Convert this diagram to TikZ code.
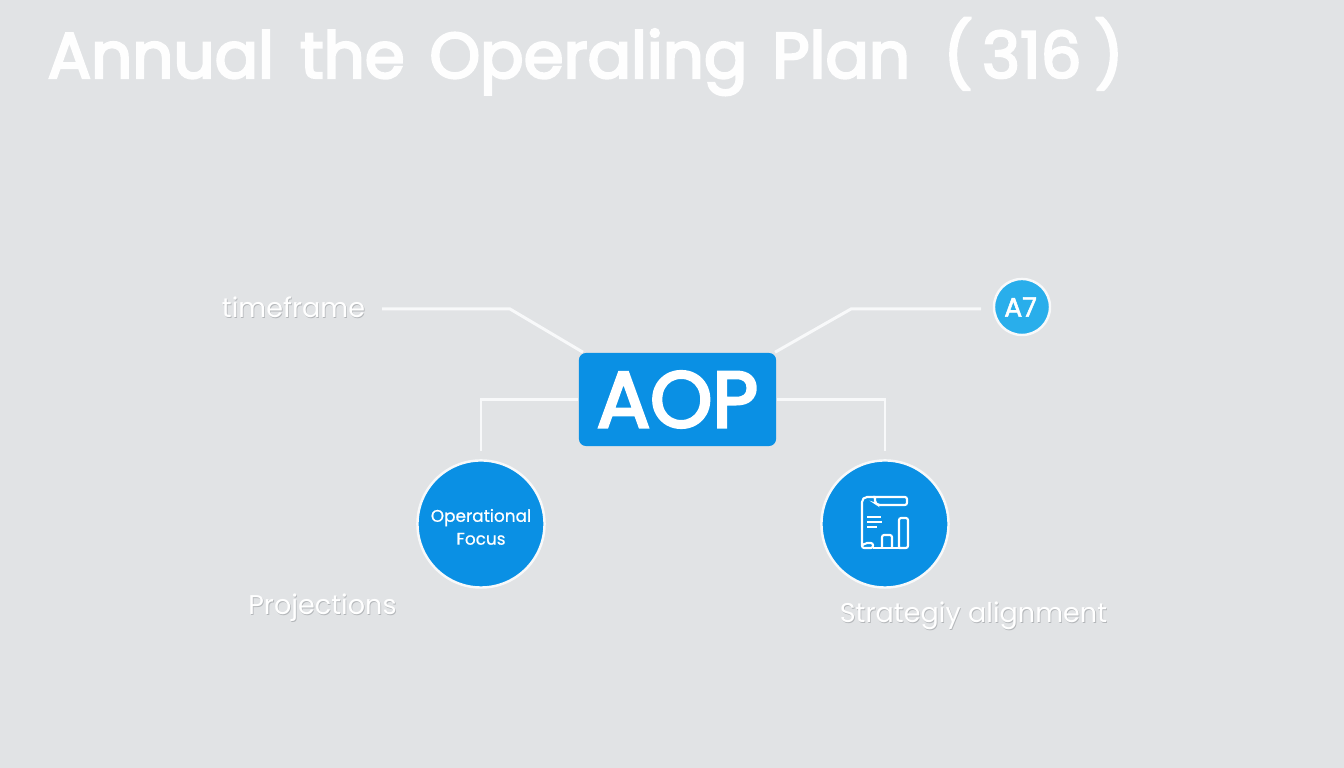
\documentclass[tikz,border=0pt]{standalone}
\usepackage{fontspec}
\setmainfont{Poppins}
\newfontfamily\heavyfont[FakeBold=3.6]{Poppins}
\newfontfamily\midfont[FakeBold=2]{Poppins}
\newfontfamily\lightfont[FakeBold=0.8]{Poppins}
\definecolor{pagegray}{HTML}{E1E3E5}
\definecolor{aopblue}{HTML}{0A90E4}
\definecolor{badgeblue}{HTML}{29AEEB}
\definecolor{linkwhite}{HTML}{F8F9FA}
\definecolor{shadegray}{HTML}{B4B7BA}
\newcommand{\shaded}[1]{\leavevmode\rlap{\kern0.22pt\raisebox{-0.22pt}{\textcolor{shadegray}{#1}}}#1}
\begin{document}
\begin{tikzpicture}[x=0.01cm, y=-0.01cm]
    % Define styles
    \tikzset{
        link/.style={
            linkwhite,
            line width=0.85pt
        },
        hub/.style={
            fill=aopblue,
            rounded corners=2pt,
            minimum width=1.97cm,
            minimum height=0.93cm,
            inner sep=0pt,
            text=white,
            font=\fontsize{22.5}{24}\heavyfont
        },
        disc/.style={
            circle,
            fill=aopblue,
            draw=linkwhite,
            line width=0.7pt,
            minimum size=1.27cm,
            inner sep=0pt,
            text=white,
            align=center,
            font=\fontsize{4.8}{6.5}\lightfont
        },
        badge/.style={
            disc,
            fill=badgeblue,
            minimum size=0.56cm,
            font=\fontsize{7.6}{8}\midfont
        },
        tag/.style={
            text=white,
            inner sep=0pt,
            font=\fontsize{7.7}{9}\selectfont
        },
        glyph/.style={
            white,
            line width=0.6pt,
            rounded corners=0.6pt
        }
    }

    % Background
    \fill[pagegray] (0,0) rectangle (1344,768);
    \useasboundingbox (0,0) rectangle (1344,768);

    % Title
    \node[tag, anchor=base west, font=\fontsize{18.3}{22}\heavyfont, text=white!97!pagegray] (title) at (47,78) {Annual\hspace{0.14em} the\hspace{0.12em} Operaling\hspace{0.12em} Plan\hspace{0.25em} (\hspace{0.15em}316\hspace{0.2em})};

    % Main nodes
    \node[hub] (aop) at (677.5,399.5) {AOP};
    \node[disc] (focus) at (481,524) {\rule{0pt}{5.3pt}Operational\\Focus};
    \node[disc] (chart) at (885,524) {};
    \node[badge] (a7) at (1022,307) {A7\kern0.8pt};

    % Labels
    \node[tag] (timeframe) at (293.5,308) {\shaded{timeframe}};
    \node[tag] (projections) at (322.5,608) {\shaded{Projections}};
    \node[tag] (alignment) at (973.5,616) {\shaded{Strategiy alignment}};

    % Connector ends
    \coordinate (timeEnd) at (382,309);
    \coordinate (badgeEnd) at (981,309);
    \coordinate (focusEnd) at (481,451);
    \coordinate (chartEnd) at (885,451);

    % Connectors
    \draw[link] (timeEnd) -- (510,309) -- (aop.north west -| 583,353);
    \draw[link] (badgeEnd) -- (851,309) -- (aop.north east -| 775,353);
    \draw[link] (aop.west |- 0,400) -| (focusEnd);
    \draw[link] (aop.east |- 0,400) -| (chartEnd);

    % Report icon
    \begin{scope}[glyph]
        \draw (875,497) -- (865,497) -- (862,500) -- (862,548) -- (873,548) -- (873,543) -- (865,543) -- (862,546);
        \draw (873,497) -- (907,497) -- (907,505) -- (878,505) -- (875,503) -- (875,497);
        \draw (873,548) -- (899,548);
        \draw (882,547) -- (882,535) -- (892,535) -- (892,547);
        \draw (899,548) -- (899,518) -- (908,518) -- (908,548) -- (899,548);
        \draw (867,517) -- (881,517);
        \draw (867,522) -- (882,522);
        \draw (867,527) -- (877,527);
    \end{scope}
\end{tikzpicture}
\end{document}
